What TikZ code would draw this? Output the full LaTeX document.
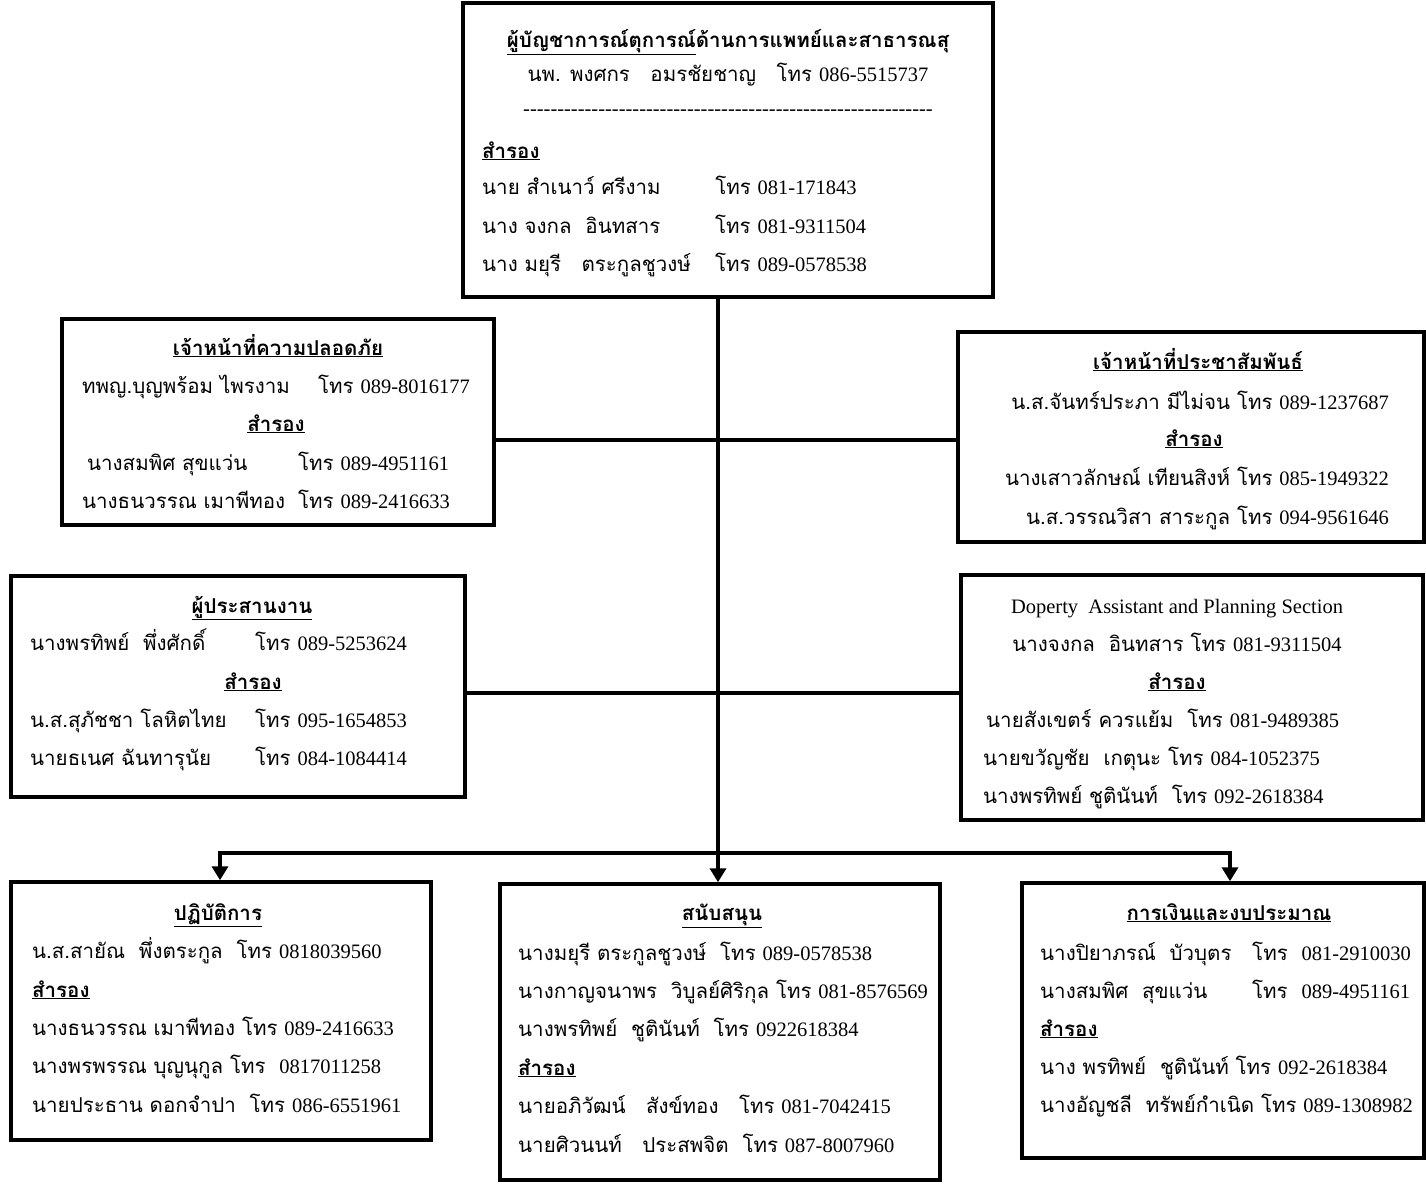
\documentclass[tikz,border=0pt]{standalone}
\usepackage{fontspec}
\setmainfont{Liberation Serif}
\newfontfamily\thaifont[Script=Thai]{Loma}
\usetikzlibrary{arrows.meta}

\newcommand{\ph}[1]{{\rmfamily #1}}
\newcommand{\head}[1]{\textbf{\underline{#1}}}
\newcommand{\namecol}[2]{\makebox[#1][l]{#2}}

\tikzset{
  box/.style={draw, line width=3.5pt, inner sep=0},
  txt/.style={inner sep=0, anchor=base, font=\fontsize{20.5}{24}\selectfont\thaifont},
  txtl/.style={txt, anchor=base west},
  txtr/.style={txt, anchor=base east},
  link/.style={line width=4.5pt},
  down/.style={link, -{Triangle[width=16pt,length=14pt]}},
}

\begin{document}
\begin{tikzpicture}[x=1pt, y=-1pt]
  \useasboundingbox (0,0) rectangle (1426,1183);

  % boxes
  \node[box, minimum width=530, minimum height=294] (cmd) at (728,150) {};
  \node[box, minimum width=432, minimum height=206] (safety) at (278,422) {};
  \node[box, minimum width=466, minimum height=210] (pr) at (1191,437) {};
  \node[box, minimum width=454, minimum height=221] (coord) at (238,686.5) {};
  \node[box, minimum width=462, minimum height=245] (plan) at (1192,697.5) {};
  \node[box, minimum width=420, minimum height=258] (ops) at (221,1011) {};
  \node[box, minimum width=440, minimum height=296] (sup) at (720,1032) {};
  \node[box, minimum width=402, minimum height=275] (fin) at (1223,1020.5) {};

  % commander
  \node[txt] (cmd-t) at (728,47) {\textbf{\underline{ผู้บัญชาการณ์ตุการณ์}ด้านการแพทย์และสาธารณสุ}};
  \node[txt] (cmd-n) at (728,81) {นพ. พงศกร\quad อมรชัยชาญ\quad โทร \ph{086-5515737}};
  \node[txt] (cmd-d) at (728,115) {\ph{\foreach \i in {1,...,60}{-\kern0pt}}};
  \node[txtl] (cmd-s) at (482,158) {\head{สำรอง}};
  \node[txtl] (cmd-1) at (482,194) {\namecol{233pt}{นาย สำเนาว์ ศรีงาม}โทร\ \ph{081-171843}};
  \node[txtl] (cmd-2) at (482,233) {\namecol{233pt}{นาง จงกล\ \ อินทสาร}โทร\ \ph{081-9311504}};
  \node[txtl] (cmd-3) at (482,271) {\namecol{233pt}{นาง มยุรี\quad ตระกูลชูวงษ์}โทร\ \ph{089-0578538}};

  % safety
  \node[txt] (safety-t) at (278,355) {\head{เจ้าหน้าที่ความปลอดภัย}};
  \node[txtl] (safety-1) at (82,393) {\namecol{236pt}{ทพญ.บุญพร้อม ไพรงาม}โทร \ph{089-8016177}};
  \node[txt] (safety-s) at (276,431) {\head{สำรอง}};
  \node[txtl] (safety-2) at (87,470) {\namecol{211pt}{นางสมพิศ สุขแว่น}โทร \ph{089-4951161}};
  \node[txtl] (safety-3) at (82,508) {\namecol{216pt}{นางธนวรรณ เมาพีทอง}โทร \ph{089-2416633}};

  % public relations
  \node[txt] (pr-t) at (1198,369) {\head{เจ้าหน้าที่ประชาสัมพันธ์}};
  \node[txtr] (pr-1) at (1389,409) {น.ส.จันทร์ประภา มีไม่จน โทร \ph{089-1237687}};
  \node[txt] (pr-s) at (1194,446) {\head{สำรอง}};
  \node[txtr] (pr-2) at (1389,485) {นางเสาวลักษณ์ เทียนสิงห์ โทร \ph{085-1949322}};
  \node[txtr] (pr-3) at (1389,524) {น.ส.วรรณวิสา สาระกูล โทร \ph{094-9561646}};

  % coordinator
  \node[txt] (coord-t) at (252,613) {\head{ผู้ประสานงาน}};
  \node[txtl] (coord-1) at (30,650) {\namecol{225pt}{นางพรทิพย์\ \ พึ่งศักดิ์}โทร \ph{089-5253624}};
  \node[txt] (coord-s) at (253,689) {\head{สำรอง}};
  \node[txtl] (coord-2) at (30,727) {\namecol{225pt}{น.ส.สุภัชชา โลหิตไทย}โทร \ph{095-1654853}};
  \node[txtl] (coord-3) at (30,765) {\namecol{225pt}{นายธเนศ ฉันทารุนัย}โทร \ph{084-1084414}};

  % planning
  \node[txt] (plan-t) at (1177,613) {\ph{Doperty\ \ Assistant and Planning Section}};
  \node[txt] (plan-1) at (1177,651) {นางจงกล\ \ อินทสาร โทร \ph{081-9311504}};
  \node[txt] (plan-s) at (1177,689) {\head{สำรอง}};
  \node[txtl] (plan-2) at (986,727) {นายสังเขตร์ ควรแย้ม\ \ โทร \ph{081-9489385}};
  \node[txtl] (plan-3) at (983,765) {นายขวัญชัย\ \ เกตุนะ โทร \ph{084-1052375}};
  \node[txtl] (plan-4) at (983,803) {นางพรทิพย์ ชูตินันท์\ \ โทร \ph{092-2618384}};

  % operations
  \node[txt] (ops-t) at (218,920) {\head{ปฏิบัติการ}};
  \node[txtl] (ops-1) at (32,958) {น.ส.สายัณ\ \ พึ่งตระกูล\ \ โทร \ph{0818039560}};
  \node[txtl] (ops-s) at (32,997) {\head{สำรอง}};
  \node[txtl] (ops-2) at (32,1035) {นางธนวรรณ เมาพีทอง โทร \ph{089-2416633}};
  \node[txtl] (ops-3) at (32,1073) {นางพรพรรณ บุญนุกูล โทร\ \ \ph{0817011258}};
  \node[txtl] (ops-4) at (32,1112) {นายประธาน ดอกจำปา\ \ โทร \ph{086-6551961}};

  % support
  \node[txt] (sup-t) at (722,920) {\head{สนับสนุน}};
  \node[txtl] (sup-1) at (518,960) {นางมยุรี ตระกูลชูวงษ์\ \ โทร \ph{089-0578538}};
  \node[txtl] (sup-2) at (518,998) {นางกาญจนาพร\ \ วิบูลย์ศิริกุล โทร \ph{081-8576569}};
  \node[txtl] (sup-3) at (518,1036) {นางพรทิพย์\ \ ชูตินันท์\ \ โทร \ph{0922618384}};
  \node[txtl] (sup-s) at (518,1075) {\head{สำรอง}};
  \node[txtl] (sup-4) at (518,1113) {นายอภิวัฒน์\quad สังข์ทอง\quad โทร \ph{081-7042415}};
  \node[txtl] (sup-5) at (518,1152) {นายศิวนนท์\quad ประสพจิต\ \ โทร \ph{087-8007960}};

  % finance
  \node[txt] (fin-t) at (1229,920) {\head{การเงินและงบประมาณ}};
  \node[txtl] (fin-1) at (1040,960) {\namecol{212pt}{นางปิยาภรณ์\ \ บัวบุตร}โทร\ \ \ph{081-2910030}};
  \node[txtl] (fin-2) at (1040,998) {\namecol{212pt}{นางสมพิศ\ \ สุขแว่น}โทร\ \ \ph{089-4951161}};
  \node[txtl] (fin-s) at (1040,1036) {\head{สำรอง}};
  \node[txtl] (fin-3) at (1040,1074) {นาง พรทิพย์\ \ ชูตินันท์ โทร \ph{092-2618384}};
  \node[txtl] (fin-4) at (1040,1112) {นางอัญชลี\ \ ทรัพย์กำเนิด โทร \ph{089-1308982}};

  % connectors
  \coordinate (hub1) at (718,440);
  \coordinate (hub2) at (718,693);
  \coordinate (bus) at (718,853);
  \coordinate (busL) at (220,853);
  \coordinate (busR) at (1230,853);
  \draw[link] (cmd.south -| bus) -- (bus);
  \draw[link] (safety.east |- hub1) -- (pr.west |- hub1);
  \draw[link] (coord.east |- hub2) -- (plan.west |- hub2);
  \draw[down] (bus) -- (sup.north -| bus);
  \draw[down] (bus) -| (ops.north -| busL);
  \draw[down] (bus) -| (fin.north -| busR);
\end{tikzpicture}
\end{document}
